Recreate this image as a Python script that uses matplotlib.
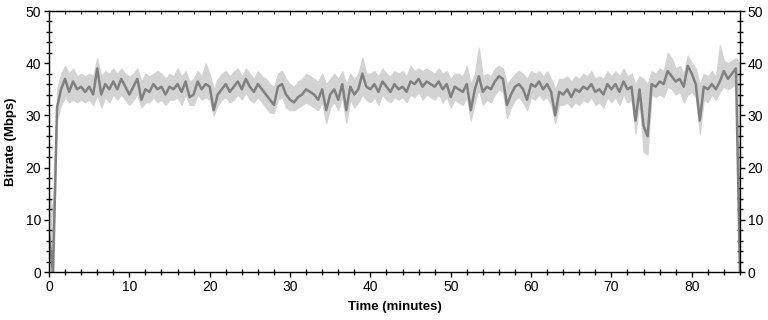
import matplotlib
matplotlib.use('Agg')
import matplotlib.pyplot as plt
import numpy as np
from matplotlib.ticker import MultipleLocator

plt.rcParams['font.family'] = ['Liberation Sans', 'DejaVu Sans']

# sampled every 0.5 minutes, 0 .. 86
time_min = np.arange(0, 86.01, 0.5)

# dark trace (Mbps)
bitrate = [
    7, 0, 31.5, 35, 37, 34.5, 36.5, 35, 35.5, 34.5,
    35.5, 34, 39, 34, 36, 35, 36.5, 35, 37, 35.5,
    34, 35.5, 37, 33, 35, 34.5, 36, 35, 35.5, 34,
    35.5, 35, 36, 34.5, 36.5, 33.5, 34, 36.5, 35, 36,
    35.5, 31, 34, 35, 36, 34.5, 35.5, 36.5, 35, 37,
    35.5, 34.5, 36, 35, 34, 33, 32, 35.5, 36, 34,
    33, 32.5, 33.5, 34, 35, 34.5, 34, 33, 35, 31,
    34, 35, 33, 36, 31, 35.5, 34, 35, 38, 35.5,
    35, 36, 34.5, 36.5, 35.5, 34.5, 36, 35, 35.5, 34.5,
    36.5, 36, 37, 35.5, 36.5, 36, 35.5, 36.5, 35, 36,
    33.5, 35.5, 35, 34.5, 36, 31, 35, 37.5, 34.5, 35.5,
    35, 36.5, 37.5, 37, 32, 34, 35.5, 36, 35, 33,
    36, 35.5, 36.5, 35, 36, 34.5, 30, 34.5, 34, 35,
    33.5, 35, 34.5, 35.5, 35, 36, 34.5, 35, 34, 36,
    35, 36, 34.5, 36.5, 35, 35.5, 29, 35, 28, 26,
    36, 35.5, 36.5, 36, 38.5, 37.5, 36.5, 37, 35.5, 39.5,
    38, 36, 29, 35.5, 35, 36, 35, 36.5, 38.5, 37,
    38, 39, 0,
]

# light envelope (max / min)
bitrate_max = [
    15, 12, 35, 38, 39.5, 38, 39, 37.5, 38, 37.5,
    38, 37.5, 41, 37.5, 38.5, 38, 39, 38, 39, 38,
    37.5, 38, 39, 36.5, 38, 37.5, 38, 38.5, 38, 37,
    38, 37.5, 39, 37.5, 38.5, 36.5, 37, 38.5, 37.5, 40,
    38, 35, 37, 38, 38.5, 37.5, 38.5, 39, 37.5, 39,
    38, 37, 38.5, 37.5, 37, 36, 35.5, 38, 38.5, 37,
    36, 35.5, 36.5, 37, 38, 37.5, 37, 36.5, 38, 36,
    37, 38, 37, 38.5, 36, 38, 37, 38, 41, 38,
    38, 38.5, 37.5, 39, 38, 37.5, 38.5, 38, 38.5, 37.5,
    39.5, 38.5, 39, 38.5, 39, 38.5, 38, 39, 38, 38.5,
    37, 38, 38, 37.5, 39.5, 36, 38, 43, 37.5, 38,
    37.5, 39, 39.5, 39, 36, 37, 38, 38.5, 38, 37,
    38.5, 38, 38.5, 37.5, 38.5, 37, 35, 37, 37, 37.5,
    36.5, 37.5, 37, 38, 37.5, 38.5, 37, 37.5, 37, 38.5,
    37.5, 38.5, 37.5, 39, 37.5, 38, 36, 37.5, 37, 36,
    38.5, 38, 39, 38.5, 42, 41, 39, 39.5, 38, 41.5,
    40, 39, 36, 38, 37.5, 38.5, 37.5, 43.5, 40.5, 40,
    40.5, 41, 40,
]
bitrate_min = [
    0, 0, 29, 32, 33.5, 32.5, 33, 32.5, 33, 32.5,
    33, 32, 34, 31.5, 33.5, 32.5, 34, 33, 34, 33,
    32, 33, 34, 31.5, 32.5, 32.5, 33.5, 32.5, 33, 32,
    33, 33, 33.5, 32, 34, 32, 32, 34, 33, 33.5,
    33, 30, 32, 33, 33.5, 32.5, 33, 34, 33, 34.5,
    33, 32.5, 33.5, 32.5, 31.5, 30.5, 30.5, 33, 33.5, 31.5,
    31, 31, 31.5, 32, 32.5, 32, 31.5, 31, 32.5, 28.5,
    31.5, 32.5, 31, 33.5, 28.5, 33, 31.5, 32.5, 34, 33,
    32.5, 33.5, 32, 34, 33, 32.5, 33.5, 33, 33.5, 32.5,
    34, 33.5, 34.5, 33, 34, 33.5, 33, 34, 32.5, 33.5,
    31.5, 33, 32.5, 32, 33.5, 29, 32.5, 35, 32, 33,
    32.5, 34, 35, 34.5, 29.5, 31.5, 33, 33.5, 32.5, 31,
    33.5, 33, 34, 33, 33.5, 32, 28.5, 32, 32, 32.5,
    31.5, 32.5, 32, 33, 32.5, 33.5, 32, 32.5, 31.5, 33.5,
    32.5, 33.5, 32, 34, 32.5, 33, 26.5, 32.5, 23, 22.5,
    34, 33.5, 34, 33.5, 35.5, 35, 34, 34.5, 32.5, 34,
    34.5, 33.5, 26.5, 33, 32.5, 34, 33, 34.5, 35.5, 35,
    35.5, 36, 0,
]

fig = plt.figure(figsize=(7.68, 3.2), dpi=100)
ax = fig.add_axes([0.0638, 0.15, 0.8997, 0.8156])

ax.fill_between(time_min, bitrate_min, bitrate_max,
                color='#d3d3d3', linewidth=0.8, edgecolor='#d3d3d3')
ax.plot(time_min, bitrate, color='#808080', linewidth=1.8)

ax.set_xlim(0, 86)
ax.set_ylim(0, 50)
ax.xaxis.set_major_locator(MultipleLocator(10))
ax.xaxis.set_minor_locator(MultipleLocator(2))
ax.yaxis.set_major_locator(MultipleLocator(10))
ax.yaxis.set_minor_locator(MultipleLocator(2))

ax.tick_params(which='major', direction='out', length=3.5, width=1,
               left=True, right=True, bottom=True, top=False,
               labelright=True, labelsize=10, pad=2)
ax.tick_params(which='minor', direction='inout', length=4.5, width=1,
               left=True, right=True, bottom=True, top=False)

top = ax.secondary_xaxis('top')
top.xaxis.set_major_locator(MultipleLocator(10))
top.xaxis.set_minor_locator(MultipleLocator(2))
top.tick_params(which='major', direction='in', length=3, labeltop=False)
top.tick_params(which='minor', direction='in', length=2)

for s in ax.spines.values():
    s.set_linewidth(1)

ax.set_xlabel('Time (minutes)', fontsize=9.5, fontweight='bold', labelpad=5)
ax.set_ylabel('Bitrate (Mbps)', fontsize=9.5, fontweight='bold', labelpad=6)

fig.savefig('out.png', dpi=100)
